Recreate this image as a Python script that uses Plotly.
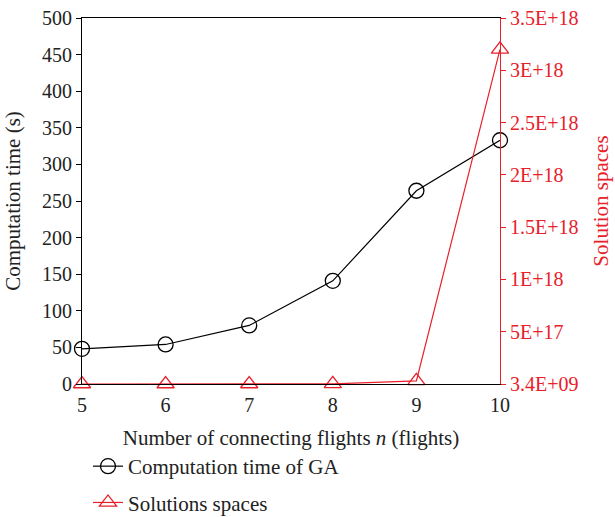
import plotly.graph_objects as go

n_flights = [5, 6, 7, 8, 9, 10]
ga_time = [48, 54, 80, 141, 264, 333]
solution_spaces = [3.4e9, 1.0e12, 5.0e13, 1.0e15, 3.0e16, 3.2e18]

x_ticks = [5, 6, 7, 8, 9, 10]
y_ticks = [0, 50, 100, 150, 200, 250, 300, 350, 400, 450, 500]
y2_ticks = [3.4e9, 5e17, 1e18, 1.5e18, 2e18, 2.5e18, 3e18, 3.5e18]
y2_labels = ["3.4E+09", "5E+17", "1E+18", "1.5E+18", "2E+18", "2.5E+18", "3E+18", "3.5E+18"]

RED = "#e8202a"
FONT = "Liberation Serif"

fig = go.Figure()
fig.add_trace(go.Scatter(
    x=n_flights, y=ga_time, name="Computation time of GA",
    mode="lines+markers", cliponaxis=False, legendgroup="a",
    line=dict(color="black", width=1.2),
    marker=dict(symbol="circle-open", size=15, color="black", line=dict(width=1.3)),
))
fig.add_trace(go.Scatter(
    x=n_flights, y=solution_spaces, name="Solutions spaces", yaxis="y2",
    mode="lines+markers", cliponaxis=False, legendgroup="b",
    line=dict(color=RED, width=1.2),
    marker=dict(symbol="triangle-up-open", size=15, color=RED, line=dict(width=1.3)),
))

fig.update_layout(
    width=615, height=517,
    margin=dict(l=82, r=115, t=18, b=133, autoexpand=False),
    paper_bgcolor="white", plot_bgcolor="white",
    font=dict(family=FONT, size=20, color="#222"),
    showlegend=True,
    legend=dict(x=(88 - 82) / 418, y=-(446 - 384) / 366,
                xanchor="left", yanchor="top",
                font=dict(family=FONT, size=21, color="#222"),
                tracegroupgap=6, bgcolor="rgba(0,0,0,0)"),
    xaxis=dict(range=[5, 10], tickvals=x_ticks, showgrid=False, zeroline=False,
               showline=True, linecolor="black", linewidth=1.2, mirror=True,
               ticks="outside", ticklen=3, tickcolor="rgba(0,0,0,0)", tickfont=dict(size=20),
               automargin=False,
               title=dict(text="Number of connecting flights <i>n</i> (flights)",
                          font=dict(size=21))),
    yaxis=dict(range=[0, 500], tickvals=y_ticks, showgrid=False, zeroline=False,
               showline=True, linecolor="black", linewidth=1.2,
               ticks="outside", ticklen=5, tickcolor="black", tickfont=dict(size=20),
               automargin=False,
               title=dict(text="Computation time (s)", font=dict(size=21))),
    yaxis2=dict(overlaying="y", side="right", range=[3.4e9, 3.5e18],
                tickvals=y2_ticks, ticktext=y2_labels, showgrid=False, zeroline=False,
                showline=True, linecolor=RED, linewidth=1.2,
                ticks="outside", ticklen=5, tickcolor=RED,
                tickfont=dict(size=20, color=RED), automargin=False,
                title=dict(text="Solution spaces", font=dict(size=21, color=RED))),
)

fig.write_html("out.html")
